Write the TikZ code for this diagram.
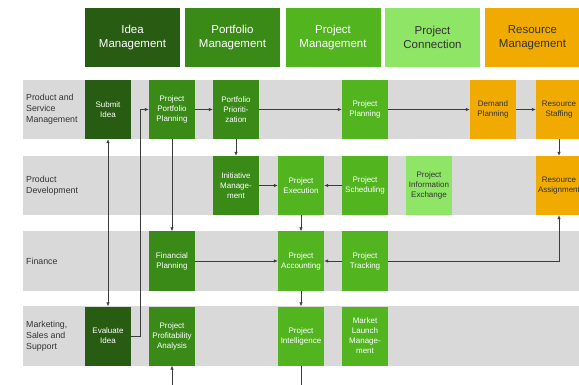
\documentclass[tikz,border=0pt]{standalone}
\usepackage{fontspec}
\setmainfont{Liberation Sans}
\usetikzlibrary{arrows.meta}
\definecolor{cIdea}{HTML}{285C12}
\definecolor{cPort}{HTML}{3A8A17}
\definecolor{cProj}{HTML}{52B520}
\definecolor{cConn}{HTML}{8FE566}
\definecolor{cRes}{HTML}{F0AA00}
\definecolor{cBand}{HTML}{D9D9D9}
\definecolor{cLine}{HTML}{3C3C3C}
\definecolor{cDark}{HTML}{333333}
\tikzset{
  hdr/.style={minimum width=95pt, minimum height=59pt, inner sep=0pt, align=center,
    font=\fontsize{11.5}{14}\selectfont},
  box/.style={minimum width=46pt, minimum height=59pt, inner sep=0pt, align=center,
    font=\fontsize{8}{10}\selectfont},
  idea/.style={fill=cIdea, text=white},
  port/.style={fill=cPort, text=white},
  proj/.style={fill=cProj, text=white},
  conn/.style={fill=cConn, text=cDark},
  res/.style={fill=cRes, text=cDark},
  band/.style={fill=cBand, draw=none},
  rowlbl/.style={anchor=west, align=left, text=cDark, inner sep=0pt,
    font=\fontsize{8.8}{11}\selectfont},
  arr/.style={draw=cLine, line width=0.6pt, -{Latex[length=4pt,width=3.5pt]}},
  dbl/.style={draw=cLine, line width=0.6pt, {Latex[length=4pt,width=3.5pt]}-{Latex[length=4pt,width=3.5pt]}},
  ln/.style={draw=cLine, line width=0.6pt}
}
\begin{document}
\begin{tikzpicture}[x=1pt,y=-1pt]
\useasboundingbox (0,0) rectangle (579,385);
\clip (0,0) rectangle (579,385);
\fill[white] (0,0) rectangle (579,385);
% bands
\path[band] (23,80) rectangle (590,139);
\path[band] (23,156) rectangle (590,215);
\path[band] (23,231) rectangle (590,291);
\path[band] (23,306) rectangle (590,366);
% row labels
\node[rowlbl] (r1) at (26,109.5) {Product and\\Service\\Management};
\node[rowlbl] (r2) at (26,185.5) {Product\\Development};
\node[rowlbl] (r3) at (26,261) {Finance};
\node[rowlbl] (r4) at (26,336) {Marketing,\\Sales and\\Support};
% headers
\node[hdr,idea] (h1) at (132.5,37.5) {Idea\\Management};
\node[hdr,port] (h2) at (232.5,37.5) {Portfolio\\Management};
\node[hdr,proj] (h3) at (333,37.5) {Project\\Management};
\node[hdr,conn] (h4) at (432.5,37.5) {Project\\Connection};
\node[hdr,res] (h5) at (532.5,37.5) {Resource\\Management};
% row 1
\node[box,idea] (si) at (108,109.5) {Submit\\Idea};
\node[box,port] (ppp) at (172,109.5) {Project\\Portfolio\\Planning};
\node[box,port] (pp) at (236,109.5) {Portfolio\\Prioriti-\\zation};
\node[box,proj] (pjp) at (365,109.5) {Project\\Planning};
\node[box,res] (dp) at (493,109.5) {Demand\\Planning};
\node[box,res] (rs) at (559,109.5) {Resource\\Staffing};
% row 2
\node[box,port] (im) at (236,185.5) {Initiative\\Manage-\\ment};
\node[box,proj] (pe) at (301,185.5) {Project\\Execution};
\node[box,proj] (ps) at (365,185.5) {Project\\Scheduling};
\node[box,conn] (pie) at (429,185.5) {Project\\Information\\Exchange};
\node[box,res] (ra) at (559,185.5) {Resource\\Assignment};
% row 3
\node[box,port] (fp) at (172,261) {Financial\\Planning};
\node[box,proj] (pa) at (301,261) {Project\\Accounting};
\node[box,proj] (pt) at (365,261) {Project\\Tracking};
% row 4
\node[box,idea] (ei) at (108,336) {Evaluate\\Idea};
\node[box,port] (ppa) at (172,336) {Project\\Profitability\\Analysis};
\node[box,proj] (pi) at (301,336) {Project\\Intelligence};
\node[box,proj] (mlm) at (365,336) {Market\\Launch\\Manage-\\ment};
% free ends
\coordinate (b1) at (172,385);
\coordinate (b2) at (301,385);
% connectors
\draw[dbl] (ei.north) -- (si.south);
\draw[arr] (ei.east) -- ++(9,0) |- (ppp.west);
\draw[arr] (ppp.east) -- (pp.west);
\draw[arr] (pp.east) -- (pjp.west);
\draw[arr] (pjp.east) -- (dp.west);
\draw[arr] (dp.east) -- (rs.west);
\draw[arr] (rs.south) -- (ra.north);
\draw[arr] (pp.south) -- (im.north);
\draw[arr] (ppp.south) -- (fp.north);
\draw[arr] (im.east) -- (pe.west);
\draw[arr] (ps.west) -- (pe.east);
\draw[arr] (pe.south) -- (pa.north);
\draw[arr] (fp.east) -- (pa.west);
\draw[arr] (pt.west) -- (pa.east);
\draw[arr] (pt.east) -| (ra.south);
\draw[arr] (pa.south) -- (pi.north);
\draw[arr] (b1) -- (ppa.south);
\draw[ln] (pi.south) -- (b2);
\end{tikzpicture}
\end{document}
